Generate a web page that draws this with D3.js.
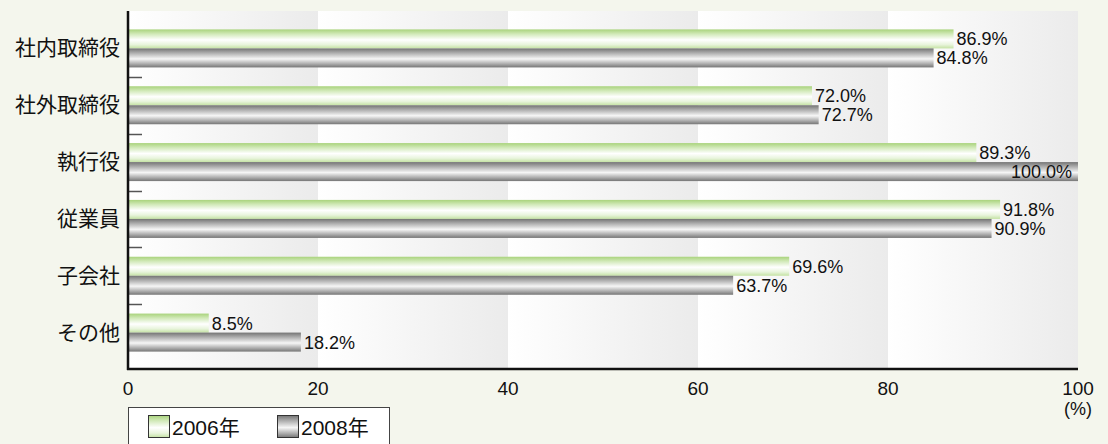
<!DOCTYPE html>
<html>
<head>
<meta charset="utf-8">
<script src="https://cdn.jsdelivr.net/npm/d3@7/dist/d3.min.js"></script>
<style>
  html, body { margin: 0; padding: 0; background: #f4f6ed; }
  svg { display: block; }
  text { font-family: "Liberation Sans", Arial, "Noto Sans CJK JP", sans-serif; fill: #111; }
</style>
</head>
<body>
<svg id="chart" width="1108" height="444"></svg>
<script>
// Data
// ----
const categories = ["社内取締役", "社外取締役", "執行役", "従業員", "子会社", "その他"];
const seriesNames = ["2006年", "2008年"];
const values2006 = [86.9, 72.0, 89.3, 91.8, 69.6, 8.5];
const values2008 = [84.8, 72.7, 100.0, 90.9, 63.7, 18.2];
const xTicks = [0, 20, 40, 60, 80, 100];

// Plot frame
const plotLeft = 128, plotRight = 1078, plotTop = 11, plotBottom = 369;

const svg = d3.select("#chart");
const defs = svg.append("defs");

// Scales
const x = d3.scaleLinear().domain([0, 100]).range([plotLeft, plotRight]);
const y = d3.scaleBand().domain(categories).range([20, 361]).paddingInner(0);
const sub = d3.scaleBand().domain(seriesNames).range([0, y.bandwidth()]).paddingInner(0).paddingOuter(0.495);

// Gradients
const bandGrad = defs.append("linearGradient").attr("id", "bandGrad")
  .attr("x1", 0).attr("x2", 1).attr("y1", 0).attr("y2", 0);
bandGrad.append("stop").attr("offset", "0%").attr("stop-color", "#ffffff");
bandGrad.append("stop").attr("offset", "100%").attr("stop-color", "#ebebeb");

const greenGrad = defs.append("linearGradient").attr("id", "greenGrad")
  .attr("x1", 0).attr("x2", 0).attr("y1", 0).attr("y2", 1);
[["0%", "#a9d37c"], ["25%", "#d3eabb"], ["55%", "#ffffff"], ["80%", "#e8f4dc"], ["100%", "#c4e2a3"]]
  .forEach(s => greenGrad.append("stop").attr("offset", s[0]).attr("stop-color", s[1]));

const grayGrad = defs.append("linearGradient").attr("id", "grayGrad")
  .attr("x1", 0).attr("x2", 0).attr("y1", 0).attr("y2", 1);
[["0%", "#747474"], ["25%", "#b0b0b0"], ["55%", "#f6f6f6"], ["80%", "#b0b0b0"], ["100%", "#767676"]]
  .forEach(s => grayGrad.append("stop").attr("offset", s[0]).attr("stop-color", s[1]));

const fills = { "2006年": "url(#greenGrad)", "2008年": "url(#grayGrad)" };

// Background bands (one per 20 units)
svg.append("g").selectAll("rect")
  .data(d3.pairs(xTicks))
  .join("rect")
  .attr("x", d => x(d[0]))
  .attr("y", plotTop)
  .attr("width", d => x(d[1]) - x(d[0]))
  .attr("height", plotBottom - plotTop)
  .attr("fill", "url(#bandGrad)");

// Bars
const rows = categories.map((c, i) => ({
  cat: c,
  items: [
    { series: "2006年", value: values2006[i] },
    { series: "2008年", value: values2008[i] }
  ]
}));

const rowG = svg.append("g").selectAll("g")
  .data(rows)
  .join("g")
  .attr("transform", d => `translate(0,${y(d.cat)})`);

rowG.selectAll("rect")
  .data(d => d.items)
  .join("rect")
  .attr("x", x(0))
  .attr("y", d => sub(d.series))
  .attr("width", d => x(d.value) - x(0))
  .attr("height", sub.bandwidth())
  .attr("fill", d => fills[d.series]);

rowG.selectAll("text.val")
  .data(d => d.items)
  .join("text")
  .attr("class", "val")
  .attr("x", d => d.value >= 99 ? x(d.value) - 6 : x(d.value) + 3)
  .attr("y", d => sub(d.series) + sub.bandwidth() / 2 + 6.5)
  .attr("text-anchor", d => d.value >= 99 ? "end" : "start")
  .attr("font-size", 18)
  .text(d => d.value.toFixed(1) + "%");

// Category ticks between rows
svg.append("g").selectAll("line")
  .data(categories.slice(1))
  .join("line")
  .attr("x1", plotLeft).attr("x2", plotLeft + 14)
  .attr("y1", d => Math.round(y(d)) + 0.5)
  .attr("y2", d => Math.round(y(d)) + 0.5)
  .attr("stroke", "#555")
  .attr("stroke-width", 1.5);

// Category labels
svg.append("g").selectAll("text")
  .data(categories)
  .join("text")
  .attr("x", 120)
  .attr("y", d => y(d) + y.bandwidth() / 2 + 7)
  .attr("text-anchor", "end")
  .attr("font-size", 21)
  .text(d => d);

// Axes lines
svg.append("line")
  .attr("x1", plotLeft).attr("x2", plotLeft)
  .attr("y1", plotTop).attr("y2", plotBottom + 1)
  .attr("stroke", "#111").attr("stroke-width", 2.5);
svg.append("line")
  .attr("x1", plotLeft - 1).attr("x2", plotRight)
  .attr("y1", plotBottom).attr("y2", plotBottom)
  .attr("stroke", "#111").attr("stroke-width", 2.5);

// X tick labels
svg.append("g").selectAll("text")
  .data(xTicks)
  .join("text")
  .attr("x", d => x(d))
  .attr("y", 395)
  .attr("text-anchor", "middle")
  .attr("font-size", 19)
  .text(d => d);

svg.append("text")
  .attr("x", x(100))
  .attr("y", 415)
  .attr("text-anchor", "middle")
  .attr("font-size", 18)
  .text("(%)");

// Legend
const legend = svg.append("g");
legend.append("rect")
  .attr("x", 128.5).attr("y", 407.5)
  .attr("width", 261).attr("height", 50)
  .attr("fill", "#fff").attr("stroke", "#444");

const legendX = d3.scaleOrdinal().domain(seriesNames).range([148.5, 277.5]);
const li = legend.selectAll("g")
  .data(seriesNames)
  .join("g")
  .attr("transform", d => `translate(${legendX(d)},415.5)`);
li.append("rect")
  .attr("width", 21).attr("height", 22)
  .attr("fill", d => fills[d])
  .attr("stroke", "#333");
li.append("text")
  .attr("x", 23.5)
  .attr("y", 19)
  .attr("font-size", 21)
  .text(d => d);
</script>
</body>
</html>
